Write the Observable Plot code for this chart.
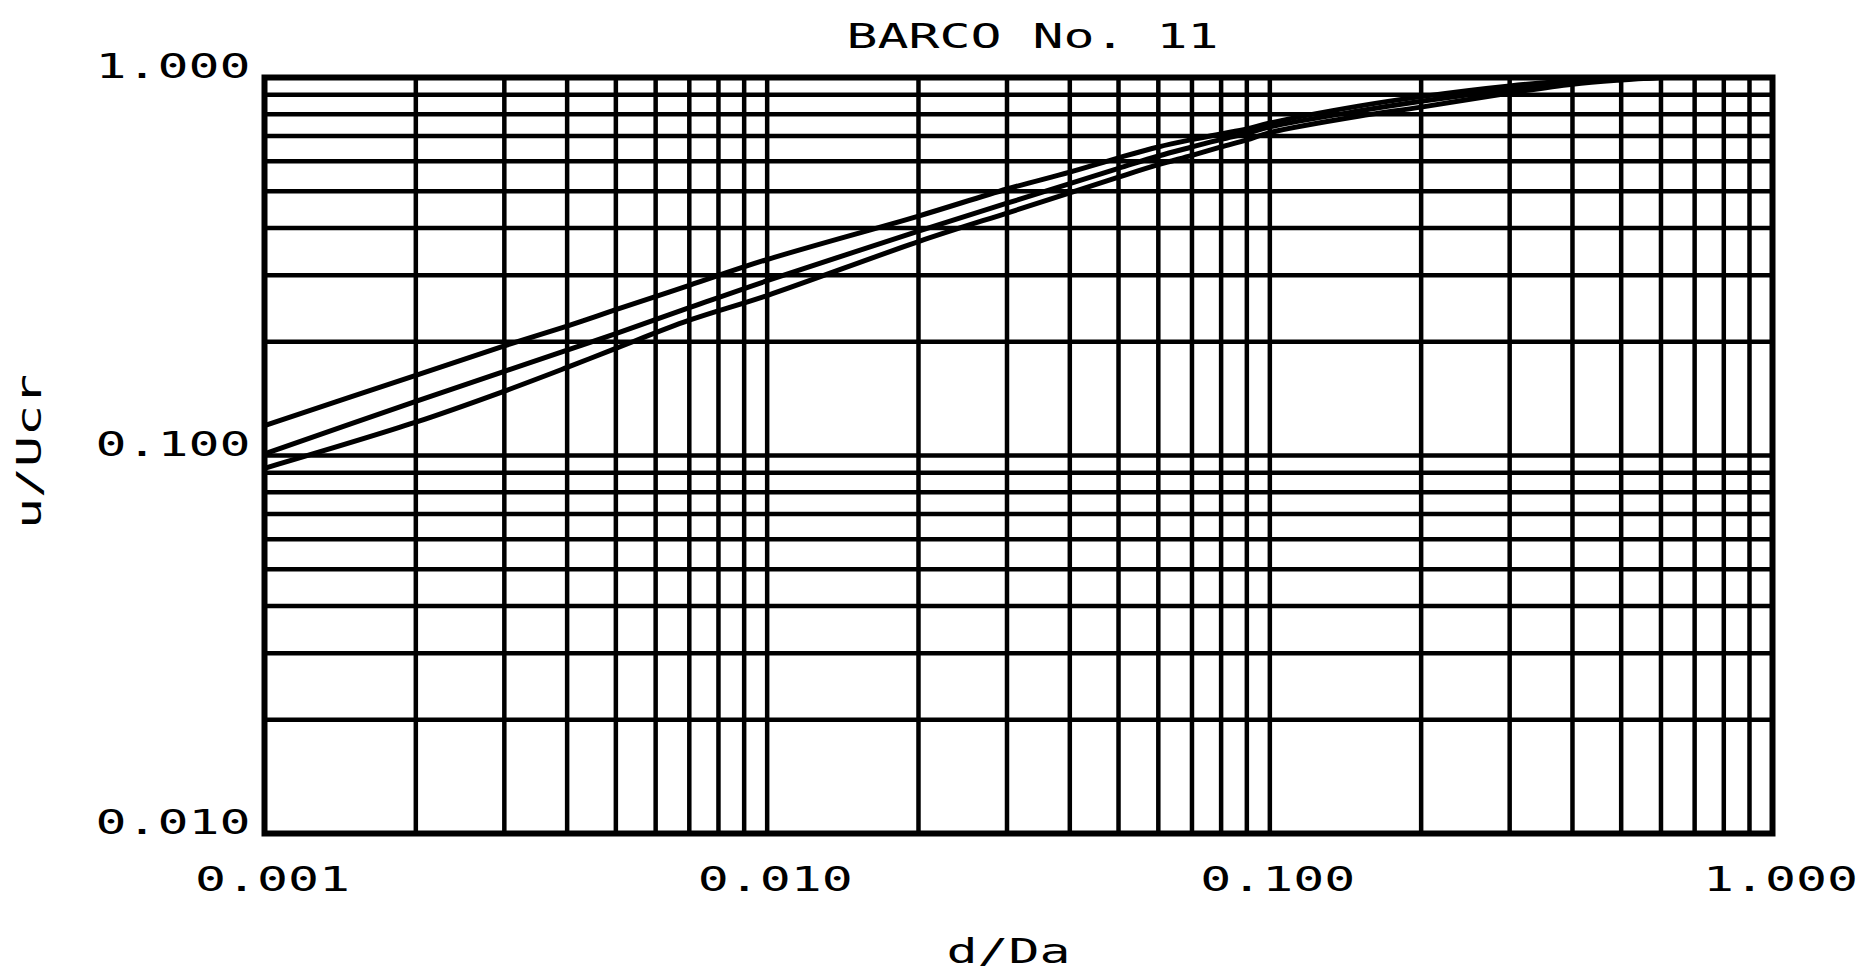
<!DOCTYPE html>
<html>
<head>
<meta charset="utf-8">
<style>
  html, body { margin: 0; padding: 0; background: #fff; }
  #chart svg { display: block; }
</style>
<script src="https://cdn.jsdelivr.net/npm/d3@7"></script>
<script src="https://cdn.jsdelivr.net/npm/@observablehq/plot@0.6"></script>
</head>
<body>
<div id="chart"></div>
<script>
// ---- text ----
const title = "BARCO No. 11";
const xLabel = "d/Da";
const yLabel = "u/Ucr";

// ---- ticks and log-paper grid ----
const xTickValues = [0.001, 0.01, 0.1, 1];
const yTickValues = [0.01, 0.1, 1];
const xGridValues = [0.002, 0.003, 0.004, 0.005, 0.006, 0.007, 0.008, 0.009,
                     0.01, 0.02, 0.03, 0.04, 0.05, 0.06, 0.07, 0.08, 0.09,
                     0.1, 0.2, 0.3, 0.4, 0.5, 0.6, 0.7, 0.8, 0.9];
const yGridValues = [0.02, 0.03, 0.04, 0.05, 0.06, 0.07, 0.08, 0.09,
                     0.1, 0.2, 0.3, 0.4, 0.5, 0.6, 0.7, 0.8, 0.9];

// ---- series ----
const dOverDa = [0.001, 0.002, 0.003, 0.004, 0.005, 0.007, 0.01, 0.02, 0.03, 0.04, 0.05,
                 0.06, 0.07, 0.08, 0.09, 0.1, 0.15, 0.2, 0.3, 0.4, 0.5, 0.6];
const curveUpper  = [0.120, 0.163, 0.195, 0.220, 0.243, 0.282, 0.330, 0.430, 0.507, 0.562, 0.613,
                     0.655, 0.685, 0.709, 0.731, 0.758, 0.840, 0.890, 0.950, 0.980, 0.995, 1.000];
const curveMiddle = [0.101, 0.139, 0.167, 0.190, 0.210, 0.246, 0.290, 0.392, 0.465, 0.524, 0.575,
                     0.620, 0.655, 0.686, 0.712, 0.740, 0.815, 0.865, 0.930, 0.970, 0.990, 1.000];
const curveLower  = [0.0925, 0.1225, 0.148, 0.171, 0.192, 0.228, 0.265, 0.368, 0.438, 0.495, 0.545,
                     0.588, 0.622, 0.655, 0.684, 0.715, 0.790, 0.835, 0.910, 0.960, 0.985, 1.000];

const rows = [];
[["upper", curveUpper], ["middle", curveMiddle], ["lower", curveLower]].forEach(([name, vals]) =>
  vals.forEach((v, i) => rows.push({series: name, x: dOverDa[i], y: v})));

const fmt = d => d.toFixed(3);

const svg = Plot.plot({
  width: 1870,
  height: 974,
  marginLeft: 264,
  marginRight: 98,
  marginTop: 77,
  marginBottom: 141,
  style: {fontFamily: "'DejaVu Sans Mono', monospace", fontSize: "34px", color: "#000", background: "#fff"},
  x: {type: "log", domain: [0.001, 1], axis: null},
  y: {type: "log", domain: [0.01, 1], axis: null},
  marks: [
    Plot.ruleX(xGridValues, {stroke: "#000", strokeWidth: 4.5}),
    Plot.ruleY(yGridValues, {stroke: "#000", strokeWidth: 4.5}),
    Plot.line(rows, {x: "x", y: "y", z: "series", stroke: "#000", strokeWidth: 5, curve: "catmull-rom"}),
    Plot.frame({stroke: "#000", strokeWidth: 6}),
    Plot.text(xTickValues, {x: d => d, text: fmt, frameAnchor: "bottom", lineAnchor: "middle", textAnchor: "middle", dx: 8, dy: 47, fontSize: 34}),
    Plot.text(yTickValues, {y: d => d, text: fmt, frameAnchor: "left", lineAnchor: "middle", textAnchor: "end", dx: -14, dy: -10, fontSize: 34}),
    Plot.text([title], {text: d => d, frameAnchor: "top", lineAnchor: "middle", textAnchor: "middle", dx: 14, dy: -40, fontSize: 34}),
    Plot.text([xLabel], {text: d => d, frameAnchor: "bottom", lineAnchor: "middle", textAnchor: "middle", dx: -10, dy: 119, fontSize: 34}),
    Plot.text([yLabel], {text: d => d, frameAnchor: "left", lineAnchor: "middle", textAnchor: "middle", rotate: -90, dx: -234, dy: -4, fontSize: 34})
  ]
});

// wide plotter-style lettering: stretch each label to a fixed character pitch
const pitch = 31;
svg.querySelectorAll("text").forEach(t => {
  const n = t.textContent.length;
  t.setAttribute("textLength", n * pitch);
  t.setAttribute("lengthAdjust", "spacingAndGlyphs");
});

document.getElementById("chart").appendChild(svg);
</script>
</body>
</html>
